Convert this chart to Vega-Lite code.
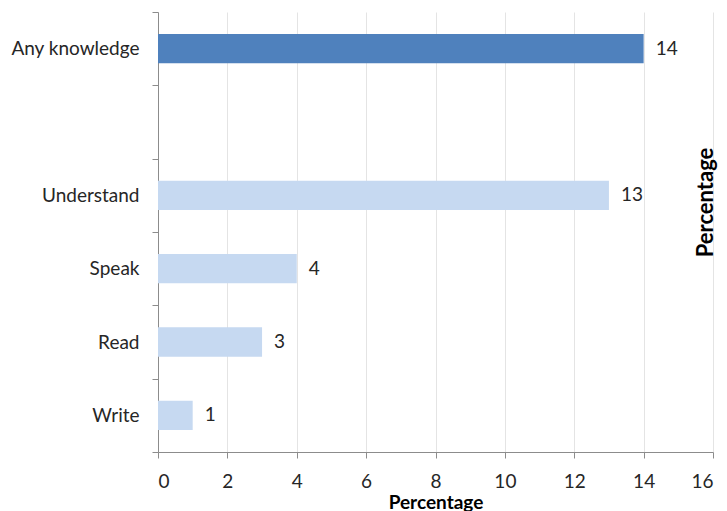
{
  "$schema": "https://vega.github.io/schema/vega-lite/v6.json",
  "width": 555,
  "height": 440,
  "autosize": {"type": "none"},
  "padding": {"left": 158, "top": 12, "right": 14, "bottom": 59},
  "background": "white",
  "config": {
    "view": {"stroke": null},
    "font": "Lato"
  },
  "data": {
    "values": [
      {"category": "Any knowledge", "value": 14, "group": "total"},
      {"category": "Understand", "value": 13, "group": "item"},
      {"category": "Speak", "value": 4, "group": "item"},
      {"category": "Read", "value": 3, "group": "item"},
      {"category": "Write", "value": 1, "group": "item"}
    ]
  },
  "encoding": {
    "y": {
      "field": "category",
      "type": "nominal",
      "sort": ["Any knowledge", " ", "Understand", "Speak", "Read", "Write"],
      "scale": {
        "domain": ["Any knowledge", " ", "Understand", "Speak", "Read", "Write"],
        "paddingInner": 0,
        "paddingOuter": 0
      }
    },
    "x": {
      "field": "value",
      "type": "quantitative",
      "scale": {"domain": [0, 16], "nice": false},
      "axis": {
        "values": [0, 2, 4, 6, 8, 10, 12, 14, 16],
        "grid": true,
        "gridColor": "#E4E4E4",
        "gridWidth": 1,
        "domainColor": "#8C8C8C",
        "tickColor": "#8C8C8C",
        "tickSize": 6,
        "labelFont": "Lato",
        "labelFontSize": 19,
        "labelColor": "#262626",
        "labelPadding": 14,
        "title": "Percentage",
        "titleFont": "Lato",
        "titleFontSize": 19,
        "titleFontWeight": "bold",
        "titleColor": "#000000",
        "titlePadding": 2
      }
    }
  },
  "layer": [
    {
      "mark": {"type": "bar", "height": {"band": 0.4}},
      "encoding": {
        "y": {
          "field": "category",
          "type": "nominal",
          "sort": ["Any knowledge", " ", "Understand", "Speak", "Read", "Write"],
          "axis": {
            "title": null,
            "tickBand": "extent",
            "domainColor": "#8C8C8C",
            "tickColor": "#8C8C8C",
            "tickSize": 6,
            "labelFont": "Lato",
            "labelFontSize": 19,
            "labelColor": "#262626",
            "labelPadding": 13
          }
        },
        "color": {
          "field": "group",
          "type": "nominal",
          "scale": {"domain": ["total", "item"], "range": ["#4F81BD", "#C6D9F1"]},
          "legend": null
        }
      }
    },
    {
      "mark": {"type": "text", "align": "left", "baseline": "middle", "dx": 12, "fontSize": 19, "font": "Lato", "color": "#262626"},
      "encoding": {
        "y": {
          "field": "category",
          "type": "nominal",
          "sort": ["Any knowledge", " ", "Understand", "Speak", "Read", "Write"],
          "axis": {
            "orient": "right",
            "labels": false,
            "ticks": false,
            "domain": false,
            "title": "Percentage",
            "titleFont": "Lato",
            "titleFontSize": 22,
            "titleFontWeight": "bold",
            "titleColor": "#000000",
            "titleAngle": 270,
            "titleBaseline": "bottom",
            "titleAlign": "center",
            "titleX": 4,
            "titleY": 190
          }
        },
        "text": {"field": "value", "type": "quantitative"}
      }
    }
  ],
  "resolve": {"axis": {"y": "independent"}}
}
